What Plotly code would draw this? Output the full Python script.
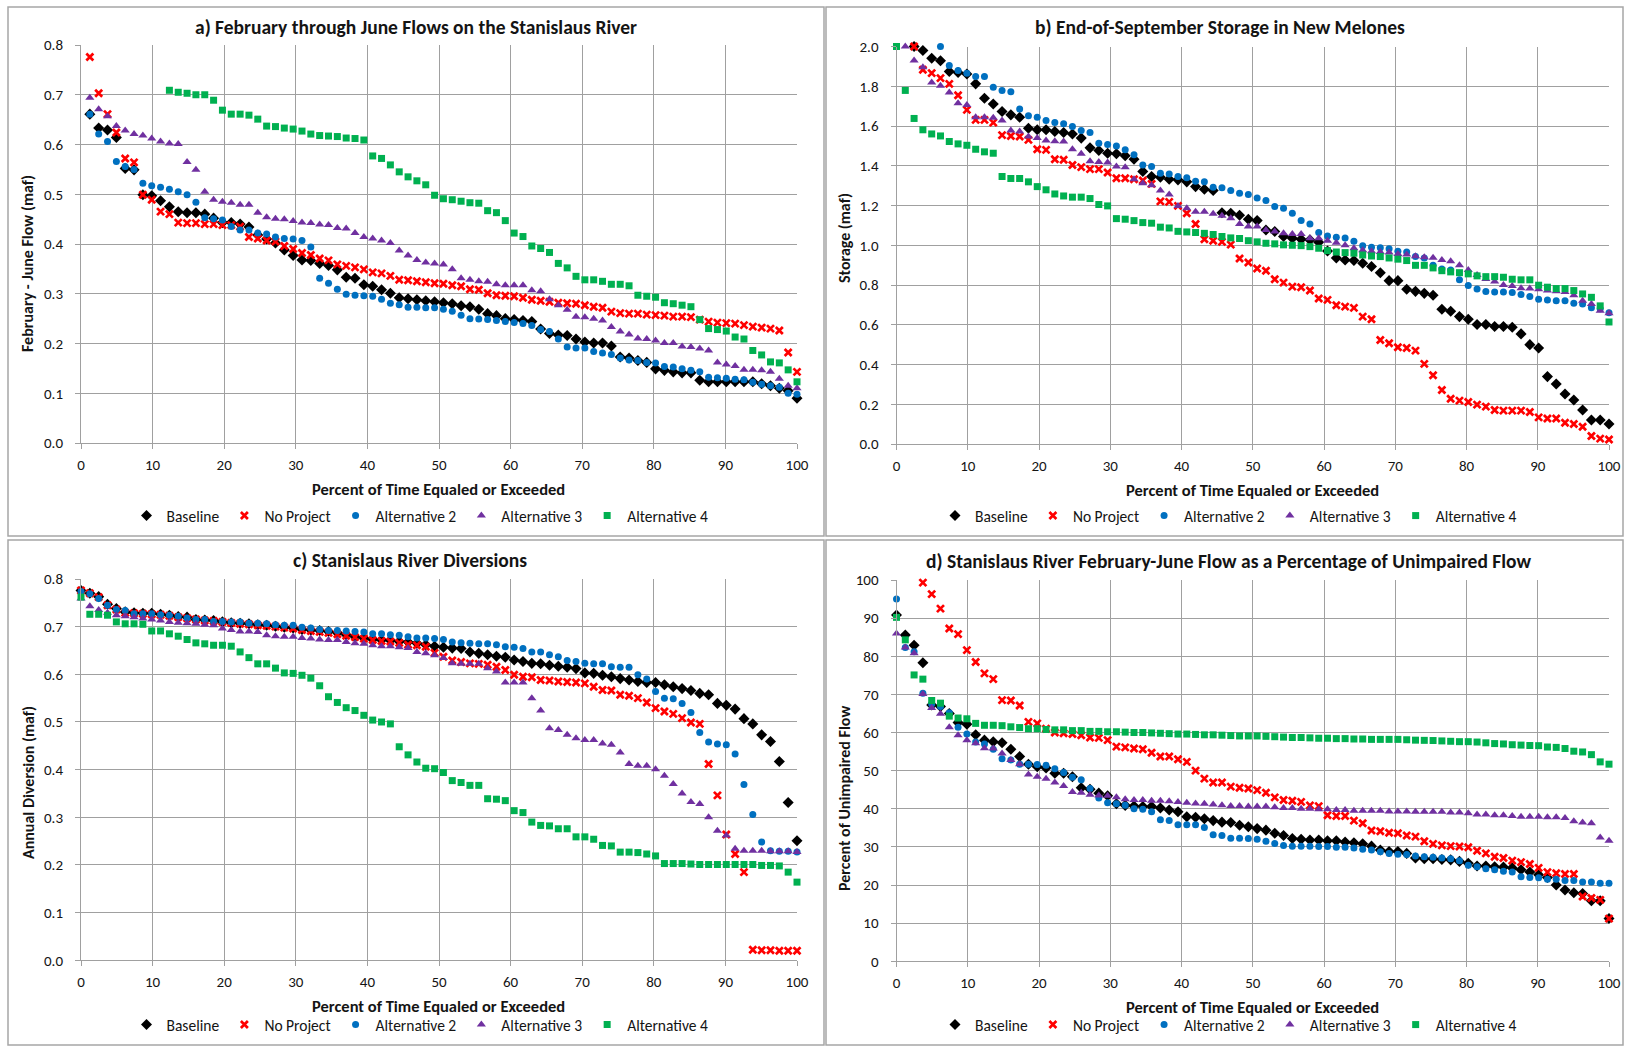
import plotly.graph_objects as go

# ---------------- data (sorted exceedance values, 82 ranks each) ----------------
series_names = ["Baseline", "No Project", "Alternative 2", "Alternative 3", "Alternative 4"]
x_tick_vals = [0, 10, 20, 30, 40, 50, 60, 70, 80, 90, 100]

# a) February through June flows (maf)
a_baseline = [0.85, 0.661, 0.633, 0.629, 0.614, 0.552, 0.549, 0.499, 0.497, 0.487,
              0.475, 0.465, 0.463, 0.463, 0.46, 0.452, 0.443, 0.443, 0.44, 0.434,
              0.418, 0.41, 0.402, 0.388, 0.377, 0.368, 0.367, 0.361, 0.357, 0.348,
              0.333, 0.331, 0.318, 0.315, 0.308, 0.301, 0.292, 0.29, 0.288, 0.286,
              0.284, 0.282, 0.28, 0.276, 0.274, 0.269, 0.26, 0.256, 0.25, 0.248,
              0.246, 0.244, 0.229, 0.22, 0.217, 0.216, 0.209, 0.203, 0.201, 0.201,
              0.195, 0.173, 0.171, 0.166, 0.162, 0.149, 0.146, 0.143, 0.141, 0.141,
              0.126, 0.123, 0.123, 0.123, 0.123, 0.123, 0.123, 0.119, 0.115, 0.11,
              0.105, 0.09]
a_noproject = [0.95, 0.776, 0.703, 0.661, 0.624, 0.572, 0.564, 0.499, 0.489, 0.465,
               0.46, 0.443, 0.442, 0.442, 0.44, 0.44, 0.438, 0.438, 0.435, 0.414,
               0.411, 0.407, 0.405, 0.396, 0.39, 0.382, 0.378, 0.371, 0.367, 0.359,
               0.356, 0.353, 0.349, 0.343, 0.341, 0.336, 0.328, 0.327, 0.325, 0.323,
               0.321, 0.32, 0.317, 0.315, 0.309, 0.308, 0.301, 0.297, 0.296, 0.295,
               0.292, 0.288, 0.286, 0.284, 0.282, 0.281, 0.28, 0.277, 0.274, 0.272,
               0.264, 0.261, 0.26, 0.26, 0.258, 0.257, 0.256, 0.254, 0.254, 0.253,
               0.248, 0.244, 0.242, 0.241, 0.24, 0.237, 0.234, 0.232, 0.23, 0.226,
               0.182, 0.143]
a_alt2 = [0.9, 0.661, 0.621, 0.606, 0.566, 0.556, 0.55, 0.522, 0.517, 0.514,
          0.51, 0.505, 0.499, 0.484, 0.453, 0.451, 0.448, 0.435, 0.428, 0.428,
          0.422, 0.42, 0.414, 0.411, 0.41, 0.407, 0.394, 0.331, 0.321, 0.309,
          0.299, 0.297, 0.296, 0.295, 0.289, 0.281, 0.278, 0.273, 0.273, 0.272,
          0.272, 0.269, 0.265, 0.257, 0.25, 0.249, 0.248, 0.246, 0.244, 0.242,
          0.24, 0.236, 0.228, 0.224, 0.209, 0.193, 0.191, 0.191, 0.184, 0.181,
          0.178, 0.171, 0.167, 0.166, 0.162, 0.161, 0.154, 0.153, 0.149, 0.146,
          0.143, 0.132, 0.131, 0.13, 0.128, 0.127, 0.122, 0.118, 0.115, 0.112,
          0.1, 0.098]
a_alt3 = [0.85, 0.694, 0.671, 0.657, 0.637, 0.628, 0.621, 0.618, 0.612, 0.606,
          0.602, 0.601, 0.565, 0.549, 0.505, 0.489, 0.485, 0.483, 0.479, 0.479,
          0.463, 0.454, 0.451, 0.45, 0.446, 0.443, 0.442, 0.439, 0.438, 0.432,
          0.431, 0.422, 0.414, 0.411, 0.407, 0.402, 0.387, 0.377, 0.368, 0.363,
          0.361, 0.359, 0.349, 0.331, 0.328, 0.325, 0.324, 0.319, 0.317, 0.317,
          0.317, 0.307, 0.305, 0.289, 0.277, 0.268, 0.254, 0.253, 0.25, 0.246,
          0.233, 0.224, 0.218, 0.21, 0.209, 0.206, 0.201, 0.201, 0.194, 0.193,
          0.19, 0.186, 0.162, 0.158, 0.155, 0.147, 0.147, 0.146, 0.143, 0.129,
          0.115, 0.11]
a_alt4 = [1.0, 0.98, 0.95, 0.93, 0.9, 0.88, 0.86, 0.84, 0.82, 0.81,
          0.709, 0.705, 0.703, 0.7, 0.7, 0.689, 0.669, 0.661, 0.661, 0.659,
          0.651, 0.637, 0.636, 0.633, 0.631, 0.627, 0.621, 0.618, 0.617, 0.616,
          0.613, 0.612, 0.609, 0.577, 0.572, 0.559, 0.545, 0.535, 0.527, 0.519,
          0.498, 0.491, 0.489, 0.486, 0.483, 0.482, 0.467, 0.463, 0.447, 0.422,
          0.415, 0.396, 0.391, 0.383, 0.361, 0.352, 0.335, 0.328, 0.328, 0.325,
          0.319, 0.319, 0.316, 0.297, 0.295, 0.293, 0.282, 0.28, 0.277, 0.274,
          0.248, 0.23, 0.228, 0.225, 0.213, 0.209, 0.186, 0.177, 0.163, 0.161,
          0.147, 0.123]

# b) End-of-September storage in New Melones (maf)
b_baseline = [2.3, 2.1, 2.0, 1.98, 1.941, 1.928, 1.874, 1.869, 1.862, 1.812,
              1.74, 1.711, 1.673, 1.656, 1.644, 1.589, 1.581, 1.581, 1.572, 1.567,
              1.56, 1.539, 1.49, 1.477, 1.463, 1.46, 1.45, 1.433, 1.371, 1.346,
              1.342, 1.332, 1.329, 1.319, 1.295, 1.282, 1.275, 1.164, 1.161, 1.151,
              1.131, 1.124, 1.077, 1.069, 1.044, 1.035, 1.03, 1.027, 1.015, 0.971,
              0.936, 0.926, 0.923, 0.909, 0.893, 0.862, 0.822, 0.822, 0.779, 0.768,
              0.758, 0.748, 0.678, 0.668, 0.641, 0.628, 0.601, 0.601, 0.591, 0.591,
              0.587, 0.554, 0.5, 0.483, 0.339, 0.302, 0.252, 0.221, 0.171, 0.121,
              0.121, 0.101]
b_noproject = [2.3, 2.1, 2.0, 1.883, 1.866, 1.841, 1.812, 1.755, 1.681, 1.631,
               1.631, 1.617, 1.554, 1.55, 1.547, 1.53, 1.483, 1.48, 1.433, 1.43,
               1.404, 1.393, 1.383, 1.383, 1.366, 1.337, 1.337, 1.332, 1.326, 1.309,
               1.221, 1.218, 1.198, 1.161, 1.107, 1.03, 1.023, 1.017, 1.003, 0.933,
               0.913, 0.883, 0.872, 0.829, 0.812, 0.792, 0.789, 0.772, 0.732, 0.725,
               0.698, 0.691, 0.685, 0.641, 0.628, 0.523, 0.507, 0.487, 0.483, 0.47,
               0.403, 0.346, 0.272, 0.228, 0.218, 0.211, 0.198, 0.188, 0.171, 0.168,
               0.168, 0.168, 0.161, 0.134, 0.128, 0.128, 0.107, 0.101, 0.087, 0.04,
               0.027, 0.023]
b_alt2 = [2.4, 2.3, 2.2, 2.1, 2.05, 2.0, 1.904, 1.879, 1.866, 1.849,
          1.849, 1.795, 1.779, 1.772, 1.685, 1.651, 1.644, 1.628, 1.617, 1.611,
          1.597, 1.577, 1.567, 1.513, 1.507, 1.5, 1.48, 1.455, 1.404, 1.396,
          1.362, 1.359, 1.346, 1.339, 1.322, 1.319, 1.292, 1.289, 1.275, 1.262,
          1.255, 1.238, 1.225, 1.195, 1.186, 1.161, 1.124, 1.107, 1.064, 1.047,
          1.04, 1.037, 1.02, 0.997, 0.99, 0.987, 0.983, 0.97, 0.966, 0.943,
          0.936, 0.9, 0.88, 0.875, 0.827, 0.797, 0.78, 0.767, 0.765, 0.765,
          0.762, 0.752, 0.742, 0.728, 0.725, 0.721, 0.721, 0.708, 0.705, 0.685,
          0.681, 0.661]
b_alt3 = [2.1, 2.0, 1.93, 1.896, 1.819, 1.802, 1.768, 1.715, 1.706, 1.644,
          1.644, 1.641, 1.628, 1.577, 1.572, 1.547, 1.539, 1.527, 1.523, 1.522,
          1.483, 1.46, 1.423, 1.419, 1.416, 1.396, 1.393, 1.332, 1.312, 1.302,
          1.275, 1.255, 1.198, 1.186, 1.169, 1.169, 1.158, 1.148, 1.136, 1.107,
          1.094, 1.094, 1.077, 1.069, 1.06, 1.057, 1.057, 1.035, 1.035, 1.023,
          1.013, 1.0, 0.985, 0.975, 0.97, 0.966, 0.963, 0.956, 0.953, 0.945,
          0.94, 0.937, 0.926, 0.919, 0.9, 0.875, 0.85, 0.83, 0.817, 0.8,
          0.795, 0.784, 0.782, 0.779, 0.772, 0.768, 0.765, 0.748, 0.721, 0.705,
          0.671, 0.658]
b_alt4 = [2.0, 1.779, 1.638, 1.581, 1.56, 1.55, 1.522, 1.51, 1.503, 1.483,
          1.47, 1.463, 1.346, 1.336, 1.336, 1.319, 1.295, 1.279, 1.258, 1.248,
          1.242, 1.242, 1.235, 1.205, 1.198, 1.134, 1.131, 1.124, 1.114, 1.111,
          1.091, 1.087, 1.07, 1.067, 1.064, 1.06, 1.054, 1.044, 1.037, 1.034,
          1.023, 1.017, 1.01, 1.007, 1.002, 1.0, 0.998, 0.993, 0.985, 0.973,
          0.966, 0.963, 0.96, 0.951, 0.946, 0.943, 0.936, 0.93, 0.923, 0.899,
          0.899, 0.886, 0.872, 0.866, 0.862, 0.856, 0.846, 0.842, 0.842, 0.839,
          0.829, 0.826, 0.826, 0.799, 0.789, 0.782, 0.782, 0.772, 0.755, 0.738,
          0.695, 0.614]

# c) Stanislaus River diversions (maf)
c_baseline = [0.776, 0.77, 0.763, 0.747, 0.738, 0.731, 0.729, 0.728, 0.728, 0.726,
              0.724, 0.721, 0.72, 0.715, 0.714, 0.713, 0.71, 0.708, 0.707, 0.706,
              0.704, 0.703, 0.701, 0.699, 0.697, 0.694, 0.693, 0.692, 0.69, 0.687,
              0.683, 0.679, 0.676, 0.673, 0.672, 0.671, 0.669, 0.668, 0.665, 0.662,
              0.659, 0.657, 0.655, 0.654, 0.647, 0.644, 0.641, 0.638, 0.636, 0.63,
              0.627, 0.623, 0.622, 0.619, 0.617, 0.615, 0.612, 0.603, 0.602, 0.598,
              0.595, 0.591, 0.588, 0.585, 0.583, 0.583, 0.578, 0.574, 0.57, 0.566,
              0.56, 0.557, 0.539, 0.535, 0.527, 0.507, 0.496, 0.473, 0.459, 0.417,
              0.331, 0.251]
c_noproject = [0.776, 0.77, 0.762, 0.745, 0.736, 0.729, 0.728, 0.727, 0.726, 0.725,
               0.723, 0.72, 0.718, 0.715, 0.713, 0.712, 0.71, 0.708, 0.706, 0.705,
               0.703, 0.702, 0.7, 0.698, 0.696, 0.693, 0.691, 0.689, 0.687, 0.684,
               0.681, 0.678, 0.675, 0.672, 0.67, 0.669, 0.666, 0.662, 0.661, 0.658,
               0.645, 0.637, 0.629, 0.626, 0.623, 0.622, 0.62, 0.616, 0.609, 0.599,
               0.595, 0.594, 0.588, 0.587, 0.585, 0.584, 0.583, 0.581, 0.574, 0.567,
               0.566, 0.557, 0.555, 0.55, 0.541, 0.529, 0.522, 0.517, 0.508, 0.499,
               0.496, 0.412, 0.346, 0.264, 0.223, 0.185, 0.022, 0.021, 0.021, 0.02,
               0.02, 0.02]
c_alt2 = [0.774, 0.769, 0.759, 0.745, 0.736, 0.734, 0.727, 0.727, 0.727, 0.725,
          0.724, 0.722, 0.718, 0.715, 0.715, 0.711, 0.711, 0.71, 0.71, 0.707,
          0.707, 0.706, 0.704, 0.703, 0.703, 0.699, 0.697, 0.694, 0.692, 0.692,
          0.691, 0.69, 0.689, 0.685, 0.685, 0.683, 0.682, 0.679, 0.676, 0.676,
          0.675, 0.673, 0.668, 0.666, 0.665, 0.664, 0.664, 0.662, 0.658, 0.657,
          0.654, 0.647, 0.647, 0.641, 0.637, 0.629, 0.627, 0.623, 0.622, 0.622,
          0.616, 0.615, 0.615, 0.599, 0.59, 0.564, 0.55, 0.549, 0.539, 0.52,
          0.478, 0.458, 0.454, 0.452, 0.433, 0.369, 0.306, 0.248, 0.23, 0.229,
          0.229, 0.227]
c_alt3 = [0.759, 0.743, 0.735, 0.729, 0.724, 0.722, 0.72, 0.717, 0.715, 0.713,
          0.71, 0.708, 0.707, 0.706, 0.704, 0.703, 0.696, 0.693, 0.69, 0.69,
          0.689, 0.682, 0.68, 0.679, 0.679, 0.676, 0.675, 0.673, 0.672, 0.672,
          0.668, 0.665, 0.664, 0.661, 0.659, 0.659, 0.657, 0.655, 0.647, 0.644,
          0.64, 0.634, 0.623, 0.622, 0.622, 0.622, 0.613, 0.606, 0.583, 0.583,
          0.583, 0.55, 0.524, 0.487, 0.483, 0.473, 0.466, 0.462, 0.462, 0.455,
          0.452, 0.436, 0.412, 0.408, 0.408, 0.401, 0.387, 0.37, 0.35, 0.332,
          0.328, 0.3, 0.272, 0.262, 0.234, 0.23, 0.23, 0.23, 0.229, 0.229,
          0.229, 0.227]
c_alt4 = [0.762, 0.726, 0.726, 0.724, 0.71, 0.706, 0.706, 0.705, 0.691, 0.691,
          0.685, 0.68, 0.673, 0.666, 0.664, 0.661, 0.661, 0.659, 0.647, 0.635,
          0.622, 0.622, 0.613, 0.603, 0.602, 0.598, 0.592, 0.576, 0.553, 0.541,
          0.53, 0.524, 0.514, 0.504, 0.5, 0.496, 0.448, 0.431, 0.416, 0.403,
          0.402, 0.394, 0.377, 0.373, 0.367, 0.367, 0.339, 0.338, 0.335, 0.314,
          0.31, 0.29, 0.283, 0.282, 0.276, 0.276, 0.259, 0.259, 0.254, 0.241,
          0.24, 0.227, 0.227, 0.226, 0.223, 0.219, 0.203, 0.203, 0.203, 0.202,
          0.201, 0.201, 0.201, 0.201, 0.201, 0.201, 0.201, 0.199, 0.199, 0.198,
          0.185, 0.164]

# d) February-June flow as a percentage of unimpaired flow (%)
d_baseline = [90.8, 85.6, 82.9, 78.3, 67.2, 66.8, 65.0, 62.6, 62.2, 59.4,
              58.0, 57.6, 57.3, 55.6, 53.7, 51.7, 51.0, 50.7, 49.3, 49.3,
              48.4, 45.5, 45.1, 44.1, 43.4, 41.3, 40.9, 40.7, 40.6, 40.6,
              40.2, 39.7, 39.2, 37.9, 37.8, 37.4, 36.9, 36.5, 36.4, 35.7,
              35.3, 34.8, 34.4, 33.6, 33.0, 32.2, 32.0, 31.8, 31.8, 31.6,
              31.6, 31.3, 31.1, 30.8, 30.2, 29.2, 28.8, 28.8, 28.3, 27.1,
              26.9, 26.9, 26.7, 26.6, 26.2, 25.7, 25.0, 25.0, 24.8, 24.7,
              24.5, 24.0, 23.4, 22.7, 22.0, 20.0, 18.7, 18.0, 17.8, 15.9,
              15.9, 11.2]
d_noproject = [105.0, 103.0, 101.0, 99.3, 96.3, 92.5, 87.3, 85.8, 81.6, 78.5,
               75.5, 74.0, 68.5, 68.4, 67.1, 62.8, 62.4, 61.0, 60.0, 59.8,
               59.6, 59.3, 58.7, 58.6, 58.0, 56.3, 56.1, 55.8, 55.6, 54.7,
               53.7, 53.7, 53.0, 52.3, 50.0, 47.9, 46.9, 46.9, 45.8, 45.5,
               45.3, 44.9, 44.2, 43.0, 42.3, 42.1, 41.8, 40.9, 40.7, 38.3,
               38.1, 38.1, 36.9, 36.2, 34.3, 34.1, 33.7, 33.6, 33.0, 32.7,
               31.5, 30.8, 30.4, 30.2, 30.1, 29.9, 29.0, 28.3, 27.4, 27.1,
               26.4, 26.0, 25.5, 24.5, 23.4, 23.1, 22.9, 22.9, 17.0, 16.6,
               16.1, 11.2]
d_alt2 = [95.0, 82.3, 81.2, 70.3, 67.5, 66.8, 65.2, 61.4, 59.6, 57.5,
          57.0, 55.6, 53.1, 52.8, 51.7, 51.7, 51.6, 51.4, 50.5, 49.5,
          48.3, 47.6, 45.3, 42.8, 41.6, 41.3, 40.9, 40.0, 39.9, 39.2,
          37.1, 36.9, 35.8, 35.8, 35.8, 35.1, 33.2, 33.0, 32.3, 32.3,
          32.2, 32.0, 31.5, 30.9, 30.4, 30.2, 30.2, 30.2, 30.1, 30.1,
          29.9, 29.9, 29.7, 29.4, 29.2, 28.7, 28.3, 28.1, 28.0, 27.6,
          27.4, 27.3, 27.1, 26.9, 26.4, 25.2, 24.8, 24.3, 24.0, 23.6,
          23.4, 22.2, 22.0, 21.9, 21.5, 21.5, 21.2, 21.2, 20.8, 20.8,
          20.5, 20.5]
d_alt3 = [86.0, 82.3, 80.8, 70.1, 66.4, 64.9, 61.4, 59.3, 58.0, 57.2,
          55.9, 55.8, 54.5, 52.8, 51.7, 49.0, 48.4, 47.9, 46.9, 46.0,
          44.4, 44.2, 43.7, 43.5, 43.4, 43.0, 42.5, 42.3, 42.3, 42.1,
          42.1, 42.0, 41.8, 41.6, 41.4, 41.3, 41.1, 40.9, 40.7, 40.7,
          40.6, 40.6, 40.6, 40.4, 40.2, 40.2, 40.0, 40.0, 39.9, 39.9,
          39.7, 39.7, 39.5, 39.5, 39.5, 39.5, 39.3, 39.3, 39.3, 39.2,
          39.2, 39.2, 39.2, 39.0, 39.0, 38.8, 38.5, 38.5, 38.3, 38.3,
          38.1, 37.9, 37.9, 37.9, 37.8, 37.8, 37.6, 36.7, 36.4, 36.2,
          32.5, 31.6]
d_alt4 = [90.2, 84.3, 75.1, 74.0, 68.4, 67.7, 64.3, 63.8, 63.6, 62.4,
          61.9, 61.9, 61.8, 61.5, 61.3, 61.0, 61.0, 60.8, 60.7, 60.7,
          60.5, 60.5, 60.3, 60.3, 60.2, 60.2, 60.1, 60.0, 60.0, 59.9,
          59.8, 59.7, 59.6, 59.6, 59.5, 59.4, 59.4, 59.3, 59.2, 59.1,
          59.1, 59.1, 59.0, 58.9, 58.8, 58.7, 58.7, 58.6, 58.5, 58.5,
          58.4, 58.4, 58.3, 58.3, 58.2, 58.2, 58.2, 58.2, 58.1, 58.0,
          57.95, 57.9, 57.8, 57.7, 57.6, 57.6, 57.5, 57.3, 57.1, 57.0,
          56.8, 56.7, 56.6, 56.55, 56.2, 56.1, 55.8, 55.1, 54.9, 54.2,
          52.3, 51.7]

# ---------------- styling ----------------
W, H = 1625, 1047
FONT = "Carlito, Calibri, Lato, sans-serif"
GRID = "#a0a0a0"
TXT = "#141414"

styles = [
    dict(symbol="diamond", size=8.5, color="#000000", line=dict(width=0)),
    dict(symbol="x-thin", size=7, color="#ff0000", line=dict(width=2.7, color="#ff0000")),
    dict(symbol="circle", size=7, color="#0070c0", line=dict(width=0)),
    dict(symbol="triangle-up", size=8, color="#7030a0", line=dict(width=0)),
    dict(symbol="square", size=7, color="#00b050", line=dict(width=0)),
]

# pixel boxes of each plot area (left, right, top, bottom) and panel frames
panels = [
    dict(sfx="", title="a) February through June Flows on the Stanislaus River",
         ytitle="February - June Flow (maf)", data=[a_baseline, a_noproject, a_alt2, a_alt3, a_alt4],
         yr=[0, 0.8], dy=0.1, fmt=".1f", box=(81, 797, 45, 443), frame=(8, 824, 7, 536),
         tx=416, ty=27, ytx=28, yty=264),
    dict(sfx="2", title="b) End-of-September Storage in New Melones",
         ytitle="Storage (maf)", data=[b_baseline, b_noproject, b_alt2, b_alt3, b_alt4],
         yr=[0, 2.0], dy=0.2, fmt=".1f", box=(896.5, 1609, 46.5, 444), frame=(826, 1623, 7, 536),
         tx=1220, ty=27, ytx=844, yty=238),
    dict(sfx="3", title="c) Stanislaus River Diversions",
         ytitle="Annual Diversion (maf)", data=[c_baseline, c_noproject, c_alt2, c_alt3, c_alt4],
         yr=[0, 0.8], dy=0.1, fmt=".1f", box=(81, 797, 579, 960.3), frame=(8, 824, 540, 1045),
         tx=410, ty=560, ytx=28, yty=783),
    dict(sfx="4", title="d) Stanislaus River February-June Flow as a Percentage of Unimpaired Flow",
         ytitle="Percent of Unimpaired Flow", data=[d_baseline, d_noproject, d_alt2, d_alt3, d_alt4],
         yr=[0, 100], dy=10, fmt="d", box=(896.5, 1609, 580, 961.3), frame=(826, 1623, 540, 1045),
         tx=1228, ty=561, ytx=844, yty=798),
]

fig = go.Figure()
layout = dict(template="none", width=W, height=H, autosize=False,
              margin=dict(l=0, r=0, t=0, b=0, pad=0, autoexpand=False),
              paper_bgcolor="white", plot_bgcolor="white",
              font=dict(family=FONT, size=15, color=TXT), showlegend=True,
              annotations=[], shapes=[])


def px(x):
    return x / W


def py(y):
    return 1 - y / H


for p in panels:
    sfx = p["sfx"]
    ymax = p["yr"][1]
    for name, vals, st in zip(series_names, p["data"], styles):
        n = len(vals)
        xs = [i * 100.0 / (n - 1) for i in range(n)]
        # values above the fixed axis maximum are not displayed (as in the source chart)
        ys = [v if v <= ymax + 1e-9 else None for v in vals]
        fig.add_trace(go.Scatter(
            x=xs, y=ys, mode="markers", name=name,
            marker=dict(symbol=st["symbol"], size=st["size"], color=st["color"], line=st["line"]),
            xaxis="x" + sfx, yaxis="y" + sfx, legend="legend" + sfx,
            cliponaxis=False, hoverinfo="x+y"))
    l, r, t, b = p["box"]
    layout["xaxis" + sfx] = dict(domain=[px(l), px(r)], anchor="y" + sfx, range=[0, 100],
                                 tickmode="array", tickvals=x_tick_vals, showgrid=True,
                                 gridcolor=GRID, gridwidth=1, showline=True, linecolor=GRID,
                                 linewidth=1, ticks="outside", ticklen=5, tickcolor=GRID,
                                 ticklabelstandoff=3, zeroline=False, automargin=False,
                                 tickfont=dict(size=15, color=TXT, family=FONT))
    layout["yaxis" + sfx] = dict(domain=[py(b), py(t)], anchor="x" + sfx, range=p["yr"],
                                 dtick=p["dy"], tick0=0, tickformat=p["fmt"], showgrid=True,
                                 gridcolor=GRID, gridwidth=1, showline=True, linecolor=GRID,
                                 linewidth=1, ticks="outside", ticklen=5, tickcolor=GRID,
                                 ticklabelstandoff=9, zeroline=False, automargin=False,
                                 tickfont=dict(size=15, color=TXT, family=FONT))
    fl, fr, ft, fb = p["frame"]
    cx = (fl + fr) / 2
    layout["legend" + sfx] = dict(orientation="h", x=px(cx + 4), xanchor="center",
                                  y=py(fb - 20), yanchor="middle", bgcolor="rgba(0,0,0,0)",
                                  font=dict(size=15.5, family=FONT, color=TXT),
                                  itemwidth=30, tracegroupgap=0, borderwidth=0)
    layout["annotations"] += [
        dict(text="<b>" + p["title"] + "</b>", x=px(p["tx"]), y=py(p["ty"]), xref="paper",
             yref="paper", showarrow=False, xanchor="center", yanchor="middle",
             font=dict(size=19.5, family=FONT, color=TXT)),
        dict(text="<b>Percent of Time Equaled or Exceeded</b>", x=px((l + r) / 2),
             y=py(b + 46), xref="paper", yref="paper", showarrow=False, xanchor="center",
             yanchor="middle", font=dict(size=16.5, family=FONT, color=TXT)),
        dict(text="<b>" + p["ytitle"] + "</b>", x=px(p["ytx"]), y=py(p["yty"]), xref="paper",
             yref="paper", showarrow=False, xanchor="center", yanchor="middle", textangle=-90,
             font=dict(size=16, family=FONT, color=TXT)),
    ]
    layout["shapes"].append(dict(type="rect", xref="paper", yref="paper", x0=px(fl), x1=px(fr),
                                 y0=py(fb), y1=py(ft), line=dict(color="#a6a6a6", width=1.5),
                                 fillcolor="rgba(0,0,0,0)", layer="below"))

fig.update_layout(**layout)
fig.write_html("out.html", config={"displayModeBar": False},
               post_script="document.body.style.margin='0px';"
                           "document.body.style.overflow='hidden';"
                           "document.documentElement.style.overflow='hidden';")
